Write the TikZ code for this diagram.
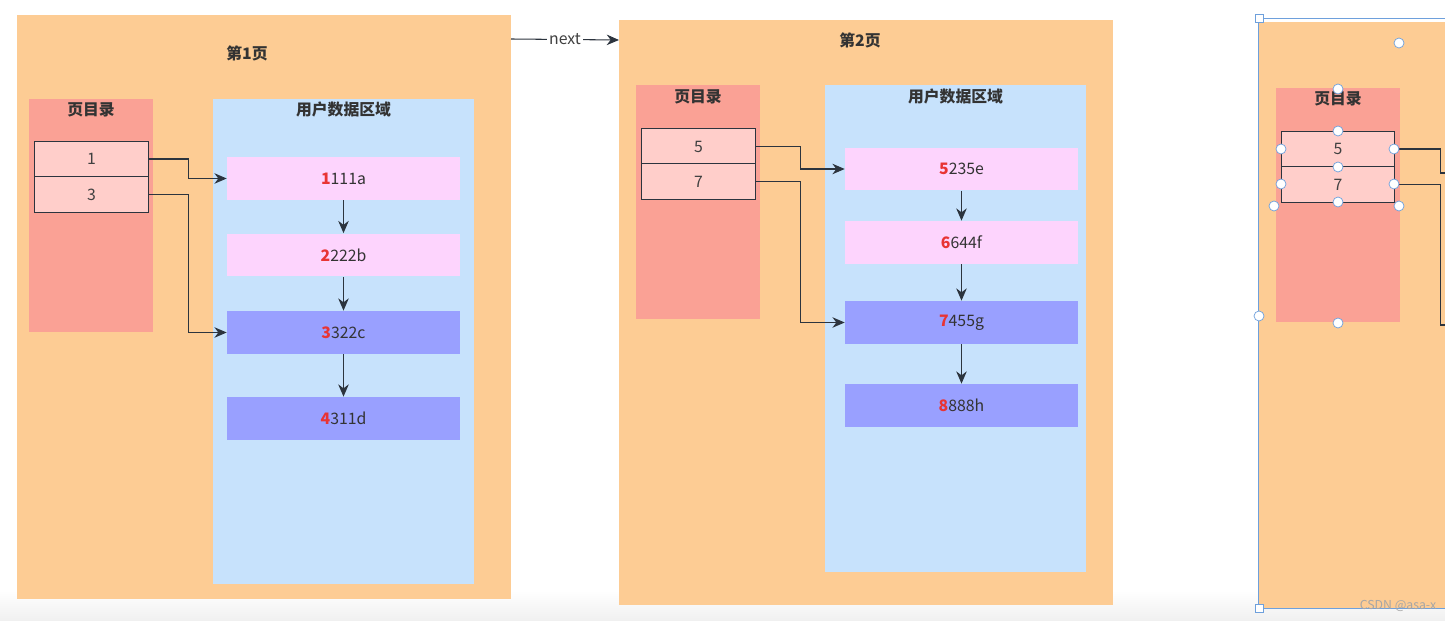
\documentclass[tikz,border=0pt]{standalone}
\usepackage{fontspec}
\setmainfont{Noto Sans CJK SC}
\usepackage{tikz}
\usetikzlibrary{arrows.meta}

\definecolor{pagebg}{RGB}{253,204,148}
\definecolor{dirbg}{RGB}{250,161,149}
\definecolor{cellbg}{RGB}{255,206,202}
\definecolor{areabg}{RGB}{199,226,252}
\definecolor{recpink}{RGB}{253,212,253}
\definecolor{recblue}{RGB}{153,160,255}
\definecolor{numred}{RGB}{232,52,52}
\definecolor{inkgrey}{RGB}{44,52,62}
\definecolor{selblue}{RGB}{110,160,220}

\begin{document}
\begin{tikzpicture}[x=0.02cm,y=-0.02cm,
  >={Stealth[length=7pt,width=6pt]},
  page/.style={fill=pagebg,inner sep=0pt,minimum width=9.88cm,minimum height=11.7cm},
  dir/.style={fill=dirbg,inner sep=0pt,minimum width=2.48cm,minimum height=4.68cm},
  area/.style={fill=areabg,inner sep=0pt,minimum width=5.22cm},
  cell/.style={draw=inkgrey,semithick,fill=cellbg,inner sep=0pt,minimum width=2.27cm,minimum height=0.71cm,font=\small,text=black!75},
  rec/.style={inner sep=0pt,minimum width=4.66cm,minimum height=0.86cm,font=\small,text=black!80},
  title/.style={font=\small\bfseries,text=black!80},
  link/.style={->,inkgrey,semithick},
  handle/.style={circle,draw=selblue,fill=white,inner sep=0pt,minimum size=0.2cm}]

\useasboundingbox (0,0) rectangle (1445,621);
\clip (0,0) rectangle (1445,621);
\shade[top color=white,bottom color=black!6] (0,590) rectangle (1445,621);

% page 1
\node (P1) at (264,307) [page,minimum height=11.68cm] {};
\node (T1) at (247,53) [title] {第1页};
\node (D1) at (91,215.5) [dir] {};
\node at (91,110) [title] {页目录};
\node (A1) at (343.5,341.5) [area,minimum height=9.7cm] {};
\node at (343.5,110) [title] {用户数据区域};
\node (C1) at (91.5,159) [cell] {1};
\node (C3) at (91.5,194.5) [cell] {3};
\node (R1) at (343.5,178.5) [rec,fill=recpink] {{\color{numred}\bfseries 1}111a};
\node (R2) at (343.5,255) [rec,fill=recpink] {{\color{numred}\bfseries 2}222b};
\node (R3) at (343.5,332.5) [rec,fill=recblue] {{\color{numred}\bfseries 3}322c};
\node (R4) at (343.5,418.5) [rec,fill=recblue] {{\color{numred}\bfseries 4}311d};

\draw[link] (C1.east) -- ++(40,0) |- (R1.west);
\draw[link] (C3.east) -- ++(40,0) |- (R3.west);
\draw[link] (R1) -- (R2);
\draw[link] (R2) -- (R3);
\draw[link] (R3) -- (R4);

% page 2
\node (P2) at (866,312.5) [page] {};
\node (T2) at (860,40) [title] {第2页};
\node (D2) at (698,202) [dir] {};
\node at (698,97) [title] {页目录};
\node (A2) at (955.5,328.5) [area,minimum height=9.74cm] {};
\node at (955.5,97) [title] {用户数据区域};
\node (C5) at (698.5,146.5) [cell] {5};
\node (C7) at (698.5,181.5) [cell] {7};
\node (R5) at (961.5,169) [rec,fill=recpink] {{\color{numred}\bfseries 5}235e};
\node (R6) at (961.5,242.5) [rec,fill=recpink] {{\color{numred}\bfseries 6}644f};
\node (R7) at (961.5,322.5) [rec,fill=recblue] {{\color{numred}\bfseries 7}455g};
\node (R8) at (961.5,405.5) [rec,fill=recblue] {{\color{numred}\bfseries 8}888h};

\draw[link] (C5.east) -- ++(45,0) |- (R5.west);
\draw[link] (C7.east) -- ++(45,0) |- (R7.west);
\draw[link] (R5) -- (R6);
\draw[link] (R6) -- (R7);
\draw[link] (R7) -- (R8);

% next
\coordinate (N1) at (511,39);
\coordinate (N2) at (619,40);
\draw[link] (N1) -- node[fill=white,inner sep=1pt,font=\small,text=black!75] {next} (N2);

% page 3 (selected, cut off)
\node (P3) at (1505,315) [page,minimum height=11.72cm] {};
\node (D3) at (1338,205) [dir] {};
\node at (1338,99) [title] {页目录};
\node (C5b) at (1338,149) [cell] {5};
\node (C7b) at (1338,184.5) [cell] {7};
\coordinate (E5) at (1460,173);
\coordinate (E7) at (1460,325);
\draw[inkgrey,semithick] (C5b.east) -- ++(45,0) |- (E5);
\draw[inkgrey,semithick] (C7b.east) -- ++(45,0) |- (E7);

\draw[selblue,thin] (1460,18) -| (1258,608) -- (1460,608);
\draw[selblue,fill=white] (1255,14) rectangle (1263,22);
\draw[selblue,fill=white] (1255,604) rectangle (1263,612);
\foreach \hx/\hy in {1399/43,1338/89,1338/131,1281/149,1394/149,1338/167,
    1281/184,1394/184,1274/206,1338/202,1399/206,1259/316,1338/323}
  \node at (\hx,\hy) [handle] {};

\node (WM) at (1398,606) [font=\scriptsize,text=black!35] {CSDN @asa-x};
\end{tikzpicture}
\end{document}
